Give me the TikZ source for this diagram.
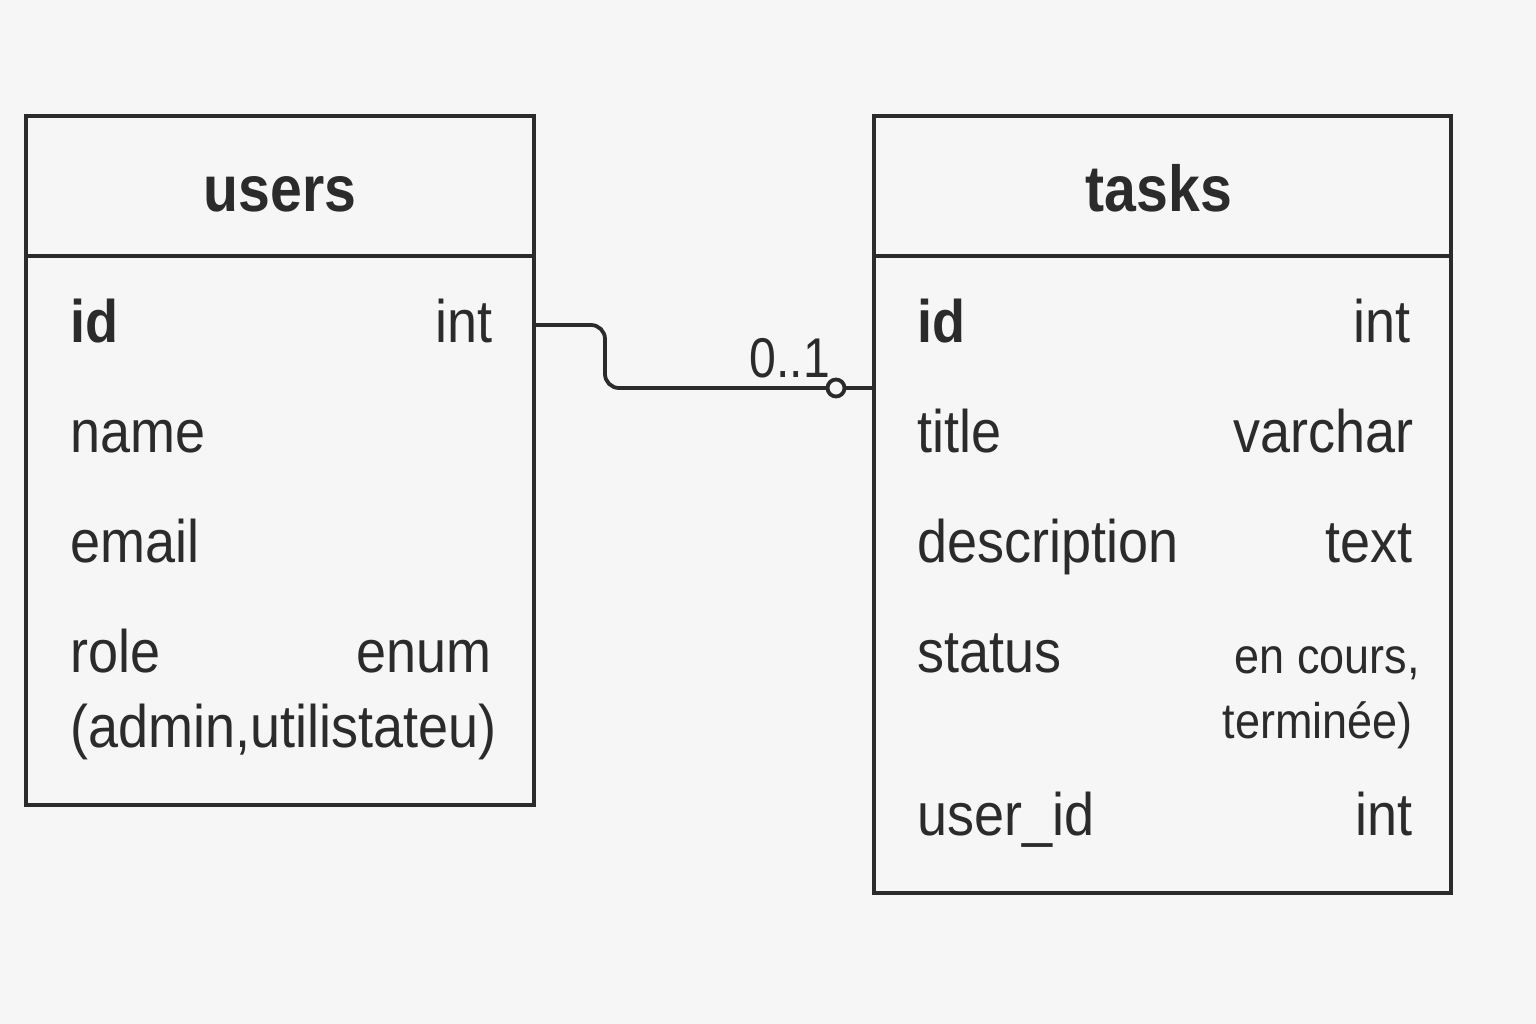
\documentclass[tikz,border=0pt]{standalone}
\usepackage{fontspec}
\setmainfont{Liberation Sans}[FakeStretch=0.9]
\newfontfamily\titlefont{Liberation Sans}[FakeStretch=0.88]
\newfontfamily\labelfont{Liberation Sans}[FakeStretch=0.86]
\definecolor{bg}{HTML}{F6F6F6}
\definecolor{ink}{HTML}{2B2B2B}
\begin{document}
\begin{tikzpicture}[x=1pt,y=-1pt,
  table/.style={draw=ink, line width=3.8pt, fill=bg, rectangle, inner sep=0pt, outer sep=0pt, anchor=north west},
  ttl/.style={inner sep=0pt, anchor=base, text=ink, font=\titlefont\bfseries\fontsize{65}{70}\selectfont},
  fl/.style={inner sep=0pt, anchor=base west, text=ink, font=\fontsize{60}{70}\selectfont},
  fr/.style={inner sep=0pt, anchor=base east, text=ink, font=\fontsize{60}{70}\selectfont},
  frs/.style={inner sep=0pt, anchor=base east, text=ink, font=\fontsize{50}{60}\selectfont},
  conn/.style={draw=ink, line width=3.8pt, rounded corners=14pt},
  card/.style={inner sep=0pt, anchor=base east, text=ink, font=\labelfont\fontsize{56}{60}\selectfont}
]
\fill[bg] (0,0) rectangle (1536,1024);
\useasboundingbox (0,0) rectangle (1536,1024);

% users table
\node[table, minimum width=508pt, minimum height=689pt] (users) at (26,116) {};
\draw[draw=ink, line width=3.8pt] (26,256) coordinate (usep1) -- (534,256) coordinate (usep2);
\node[ttl] (usersT) at (280,212) {users};
\node[fl] (u1) at (70,342) {\bfseries id};
\node[fr] (u1t) at (493,342) {int};
\node[fl] (u2) at (70,452) {name};
\node[fl] (u3) at (70,562) {email};
\node[fl] (u4) at (70,672) {role};
\node[fr] (u4t) at (492,672) {enum};
\node[fl] (u5) at (70,747) {(admin,utilistateu)};

% tasks table
\node[table, minimum width=577pt, minimum height=777pt] (tasks) at (874,116) {};
\draw[draw=ink, line width=3.8pt] (874,256) coordinate (tsep1) -- (1451,256) coordinate (tsep2);
\node[ttl] (tasksT) at (1159,212) {tasks};
\node[fl] (t1) at (917,342) {\bfseries id};
\node[fr] (t1t) at (1411,342) {int};
\node[fl] (t2) at (917,452) {title};
\node[fr] (t2t) at (1414,452) {varchar};
\node[fl] (t3) at (917,562) {description};
\node[fr] (t3t) at (1413,562) {text};
\node[fl] (t4) at (917,672) {status};
\node[frs] (t4a) at (1420,673) {en cours,};
\node[frs] (t4b) at (1413,738) {terminée)};
\node[fl] (t5) at (917,835) {user\_id};
\node[fr] (t5t) at (1413,835) {int};

% connector
\coordinate (cstart) at (users.east |- 0,325);
\coordinate (cend) at (tasks.west |- 0,388);
\draw[conn] (cstart) -- (605,325) -- (605,388) -- (cend);
\node[circle, draw=ink, line width=3.8pt, fill=bg, minimum size=17pt, inner sep=0pt] (circ) at (836,388) {};
\node[card] (mult) at (830,377) {0..1};
\end{tikzpicture}
\end{document}
